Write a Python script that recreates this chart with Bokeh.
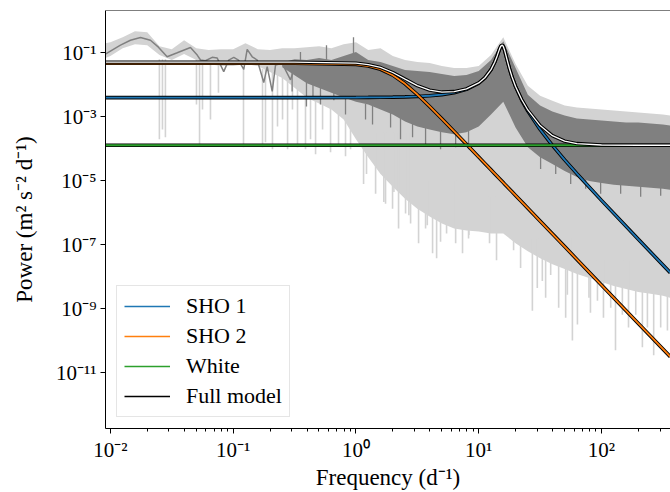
import numpy as np
from bokeh.plotting import figure
from bokeh.models import (FixedTicker, CustomJSTickFormatter, Legend, LegendItem, Span)
from bokeh.embed import file_html
from bokeh.resources import INLINE

# ---------------- data (all values are log10 of frequency [d^-1] / power) ----------------
grid_logf = [-2.04, -2.0, -1.9, -1.8, -1.7, -1.6, -1.5, -1.4, -1.3, -1.2, -1.1, -1.0, -0.9, -0.8,
             -0.7, -0.6, -0.5, -0.4, -0.3, -0.2, -0.1, 0.0, 0.1, 0.2, 0.3, 0.4, 0.5, 0.6, 0.7, 0.8,
             0.9, 1.0, 1.1, 1.2, 1.3, 1.4, 1.5, 1.6, 1.7, 1.8, 1.9, 2.0, 2.1, 2.2, 2.3, 2.4, 2.5, 2.56]
raw_upper = [-0.700, -0.669, -0.514, -0.328, -0.359, -0.793, -0.885, -0.607, -0.854, -0.916, -0.885,
             -0.885, -0.700, -0.885, -0.916, -0.854, -0.854, -0.824, -0.793, -0.854, -0.731, -0.669,
             -0.916, -0.854, -1.102, -1.226, -1.288, -1.319, -1.412, -1.474, -1.474, -1.412, -1.071,
             -0.514, -1.350, -2.031, -2.341, -2.495, -2.650, -2.712, -2.743, -2.774, -2.805, -2.836,
             -2.867, -2.898, -2.929, -2.960]
raw_lower = [-1.164, -1.102, -0.854, -0.731, -0.762, -1.071, -1.226, -1.040, -1.226, -1.350, -1.412,
             -1.412, -1.350, -1.412, -1.598, -1.784, -2.093, -2.402, -2.588, -2.774, -3.084, -3.703,
             -4.260, -4.786, -5.189, -5.560, -5.870, -6.118, -6.334, -6.489, -6.551, -6.582, -6.644,
             -6.644, -6.954, -7.201, -7.418, -7.604, -7.759, -7.913, -8.037, -8.161, -8.285, -8.378,
             -8.471, -8.533, -8.594, -8.656]

raw_spike_logf = [-1.601, -1.576, -1.552, -1.299, -1.274, -1.250, -1.185, -1.120,
                  -0.916, -0.761, -0.737, -0.680, -0.639, -0.598, -0.557, -0.517, -0.476,
                  -0.411, -0.370, -0.329, -0.272, -0.207, -0.142, -0.085, -0.044,
                  0.062, 0.086, 0.160, 0.241, 0.298, 0.347, 0.404, 0.445, 0.227, 0.309, 0.431,
                  0.510, 0.567, 0.624, 0.657, 0.738, 0.812, 0.868, 0.917, 0.581, 0.689, 0.920,
                  1.088, 1.145, 1.284, 1.341,
                  1.437, 1.545, 1.651, 1.708, 1.763, 1.477, 1.518, 1.586, 1.722,
                  1.804, 1.910, 2.016, 2.114, 2.220, 2.333, 2.425, 2.482, 2.537,
                  1.898, 1.967, 2.075, 2.170, 2.279, 2.374]
raw_spike_top = [-1.2] * 8 + [-1.5] * 9 + [-2.3] * 8 + [-3.5] * 11 + [-5.0] * 11 + [-5.5] * 4 + \
                [-6.8] * 9 + [-7.5] * 15
raw_spike_bottom = [-3.703, -3.393, -3.641, -2.619, -3.920, -2.774, -3.084, -2.248,
                    -3.950, -3.950, -3.796, -4.012, -3.300, -3.084, -4.012, -2.774, -3.950,
                    -4.012, -3.703, -4.167, -3.393, -4.105, -3.858, -4.229, -4.012,
                    -5.096, -4.786, -5.406, -5.715, -5.870, -6.489, -6.025, -6.334, -5.663, -5.353, -6.077,
                    -6.954, -6.489, -7.263, -7.418, -6.644, -6.954, -7.263, -6.799, -6.387, -6.901, -6.696,
                    -6.954, -7.480, -7.171, -7.728,
                    -9.059, -8.656, -8.966, -9.276, -9.988, -8.347, -8.130, -7.944, -8.563,
                    -9.492, -9.121, -9.276, -10.297, -9.585, -10.204, -10.452, -9.585, -9.678,
                    -8.656, -8.749, -8.966, -9.183, -9.183, -9.585]

smooth_logf = [-2.041, -1.918, -1.837, -1.755, -1.674, -1.609, -1.538, -1.456, -1.348, -1.293, -1.266,
               -1.226, -1.171, -1.130, -1.077, -1.036, -0.995, -0.957, -0.914, -0.886, -0.845, -0.804,
               -0.751, -0.723, -0.682, -0.655, -0.601, -0.533, -0.492, -0.452]
smooth_logp = [-1.040, -0.762, -0.607, -0.523, -0.607, -0.823, -1.124, -1.000, -0.833, -1.071, -1.226,
               -1.248, -1.142, -1.164, -1.588, -1.226, -1.142, -1.226, -1.514, -0.895, -1.124, -1.226,
               -1.929, -1.433, -2.207, -1.381, -1.328, -1.845, -1.381, -1.474]

band_logf = [-0.6, -0.5, -0.4, -0.3, -0.2, -0.1, 0.0, 0.1, 0.2, 0.3, 0.4, 0.5, 0.6, 0.7, 0.8, 0.9, 1.0,
             1.1, 1.2, 1.3, 1.4, 1.5, 1.6, 1.7, 1.8, 1.9, 2.0, 2.1, 2.2, 2.3, 2.4, 2.5, 2.56]
band_upper = [-1.300, -1.200, -1.226, -1.164, -1.226, -1.102, -0.978, -1.226, -1.288, -1.412, -1.536,
              -1.567, -1.598, -1.659, -1.721, -1.690, -1.567, -1.226, -0.638, -1.474, -2.310, -2.650,
              -2.836, -2.960, -3.053, -3.084, -3.115, -3.146, -3.177, -3.177, -3.207, -3.238, -3.269]
band_lower = [-1.450, -1.700, -1.950, -2.100, -2.250, -2.400, -2.526, -2.619, -2.774, -2.929, -3.146,
              -3.300, -3.393, -3.486, -3.548, -3.486, -3.300, -2.929, -2.526, -3.331, -3.950, -4.260,
              -4.477, -4.693, -4.879, -5.003, -5.065, -5.127, -5.158, -5.189, -5.220, -5.251, -5.282]

band_spike_logf = [-0.403, -0.289, -0.085, -0.520, -0.350, -0.180, 0.078, 0.135, 0.282, 0.363, 0.461,
                   0.567, 0.689, 0.812, 0.917, 1.504, 1.627, 1.749, 1.871, 1.993, 2.156, 2.319, 2.482,
                   -0.020, -0.240, -0.452]
band_spike_top = [-1.5, -1.5, -1.8, -1.5, -1.5, -1.6, -2.6, -2.6, -2.6, -2.6, -2.6, -2.6, -2.6, -2.6,
                  -2.6, -4.0, -4.0, -4.0, -4.0, -4.0, -4.0, -4.0, -4.0, -0.514, -0.762, -0.978]
band_spike_bottom = [-2.681, -2.619, -2.929, -2.207, -2.350, -2.480, -3.084, -3.238, -3.331, -3.703,
                     -3.641, -3.858, -4.012, -3.950, -4.012, -4.632, -4.786, -5.096, -5.251, -5.406,
                     -5.406, -5.499, -5.468, -1.6, -1.6, -1.6]

model_logf = [-2.04, -1.5, -1.0, -0.5, 0.0, 0.1, 0.2, 0.3, 0.4, 0.5, 0.6, 0.7, 0.8, 0.9, 1.0, 1.05,
              1.1, 1.13, 1.15, 1.17, 1.18, 1.192, 1.20, 1.21, 1.23, 1.25, 1.27, 1.3, 1.35, 1.4, 1.5,
              1.6, 1.7, 1.8, 2.0, 2.3, 2.56]
sho1_logp = [-2.400, -2.400, -2.400, -2.400, -2.396, -2.394, -2.391, -2.386, -2.377, -2.364, -2.342,
             -2.306, -2.246, -2.143, -1.949, -1.784, -1.528, -1.297, -1.098, -0.877, -0.791, -0.761,
             -0.802, -0.910, -1.205, -1.493, -1.742, -2.056, -2.477, -2.822, -3.396, -3.890, -4.345,
             -4.777, -5.611, -6.827, -7.871]
sho2_logp = [-1.328, -1.328, -1.328, -1.328, -1.363, -1.412, -1.514, -1.698, -1.969, -2.304, -2.676,
             -3.064, -3.459, -3.857, -4.256, -4.456, -4.656, -4.776, -4.856, -4.936, -4.976, -5.024,
             -5.056, -5.096, -5.176, -5.256, -5.336, -5.456, -5.656, -5.856, -6.256, -6.656, -7.056,
             -7.456, -8.256, -9.456, -10.496]
white_logf = [-2.04, 2.56]
white_logp = [-3.889, -3.889]
full_logp = [-1.292, -1.292, -1.292, -1.292, -1.323, -1.368, -1.458, -1.615, -1.822, -2.026, -2.168,
             -2.227, -2.211, -2.127, -1.942, -1.780, -1.526, -1.296, -1.097, -0.877, -0.790, -0.761,
             -0.801, -0.910, -1.204, -1.491, -1.739, -2.050, -2.460, -2.786, -3.275, -3.589, -3.759,
             -3.836, -3.881, -3.889, -3.889]

series_names = ["SHO 1", "SHO 2", "White", "Full model"]
series_colors = ["#1f77b4", "#ff7f0e", "#2ca02c", "#000000"]

x_ticks = [1e-2, 1e-1, 1e0, 1e1, 1e2]
x_tick_labels = ["10\u207b\u00b2", "10\u207b\u00b9", "10\u2070", "10\u00b9", "10\u00b2"]
y_ticks = [1e-11, 1e-9, 1e-7, 1e-5, 1e-3, 1e-1]
y_tick_labels = ["10\u207b\u00b9\u00b9", "10\u207b\u2079", "10\u207b\u2077", "10\u207b\u2075",
                 "10\u207b\u00b3", "10\u207b\u00b9"]

x_lim_log = (-2.04, 2.562)
y_lim_log = (-12.74, 0.322)


def p10(a):
    return np.power(10.0, np.asarray(a, dtype=float))


FONT = "Liberation Serif"
LIGHT = "#d3d3d3"
DARK = "#808080"

p = figure(width=670, height=492, x_axis_type="log", y_axis_type="log",
           x_range=(10 ** x_lim_log[0], 10 ** x_lim_log[1]),
           y_range=(10 ** y_lim_log[0], 10 ** y_lim_log[1]),
           output_backend="svg", toolbar_location=None,
           min_border_left=105, min_border_right=0, min_border_top=10, min_border_bottom=60)
p.outline_line_color = None
p.grid.visible = False
p.background_fill_color = "white"
p.border_fill_color = "white"

# raw periodogram (light gray)
p.varea(x=p10(grid_logf), y1=p10(raw_lower), y2=p10(raw_upper), fill_color=LIGHT)
p.segment(x0=p10(raw_spike_logf), y0=p10(raw_spike_top), x1=p10(raw_spike_logf),
          y1=p10(raw_spike_bottom), line_color=LIGHT, line_width=1.6)

# smoothed periodogram (dark gray)
p.varea(x=p10(band_logf), y1=p10(band_lower), y2=p10(band_upper), fill_color=DARK)
p.segment(x0=p10(band_spike_logf), y0=p10(band_spike_top), x1=p10(band_spike_logf),
          y1=p10(band_spike_bottom), line_color=DARK, line_width=1.3)
p.line(p10(smooth_logf), p10(smooth_logp), line_color=DARK, line_width=1.5)

# model components with outlines
for lf, lp, col in [(model_logf, sho1_logp, series_colors[0]),
                    (model_logf, sho2_logp, series_colors[1]),
                    (white_logf, white_logp, series_colors[2])]:
    p.line(p10(lf), p10(lp), line_color="black", line_width=3.6)
    p.line(p10(lf), p10(lp), line_color=col, line_width=1.8)
p.line(p10(model_logf), p10(full_logp), line_color="black", line_width=3.4)
p.line(p10(model_logf), p10(full_logp), line_color="white", line_width=1.3)

# top spine
p.add_layout(Span(location=10 ** y_lim_log[1], dimension="width", line_color="black", line_width=1))

# axes
x_minor = [k * 10.0 ** n for n in range(-3, 3) for k in range(2, 10)]
p.xaxis.ticker = FixedTicker(ticks=x_ticks, minor_ticks=x_minor)
p.yaxis.ticker = FixedTicker(ticks=y_ticks, minor_ticks=[])
fmt_code = """
let best = 0, bd = Infinity;
for (let i = 0; i < vals.length; i++) {
  const d = Math.abs(Math.log10(vals[i]) - Math.log10(tick));
  if (d < bd) { bd = d; best = i; }
}
return labs[best];
"""
p.xaxis.formatter = CustomJSTickFormatter(args=dict(vals=x_ticks, labs=x_tick_labels), code=fmt_code)
p.yaxis.formatter = CustomJSTickFormatter(args=dict(vals=y_ticks, labs=y_tick_labels), code=fmt_code)

for ax in (p.xaxis[0], p.yaxis[0]):
    ax.axis_line_color = "black"
    ax.axis_line_width = 1
    ax.major_tick_line_color = "black"
    ax.minor_tick_line_color = "black"
    ax.major_tick_in = 0
    ax.major_tick_out = 5
    ax.minor_tick_in = 0
    ax.minor_tick_out = 3
    ax.major_label_text_font = FONT
    ax.major_label_text_font_size = "21px"
    ax.major_label_text_color = "black"
    ax.axis_label_text_font = FONT
    ax.axis_label_text_font_size = "23px"
    ax.axis_label_text_font_style = "normal"
    ax.axis_label_text_color = "black"

p.xaxis.major_label_standoff = 4
p.xaxis.axis_label_standoff = 0
p.yaxis.major_label_standoff = 4
p.yaxis.axis_label_standoff = 16

p.xaxis.axis_label = "Frequency (d\u207b\u00b9)"
p.yaxis.axis_label = "Power (m\u00b2 s\u207b\u00b2 d\u207b\u00b9)"

# legend (plain lines, drawn from off-screen dummy renderers)
items = []
for name, col in zip(series_names, series_colors):
    r = p.line([1e-6, 2e-6], [1e-20, 1e-20], line_color=col, line_width=1.6)
    items.append(LegendItem(label=name, renderers=[r]))
legend = Legend(items=items, location="bottom_left")
legend.label_text_font = FONT
legend.label_text_font_size = "22px"
legend.label_text_color = "black"
legend.glyph_width = 46
legend.glyph_height = 24
legend.label_height = 24
legend.label_standoff = 16
legend.spacing = 4
legend.padding = 7
legend.margin = 11
legend.border_line_color = "#cccccc"
legend.border_line_width = 1
legend.background_fill_alpha = 0.8
p.add_layout(legend)

open("out.html", "w").write(file_html(p, INLINE))
